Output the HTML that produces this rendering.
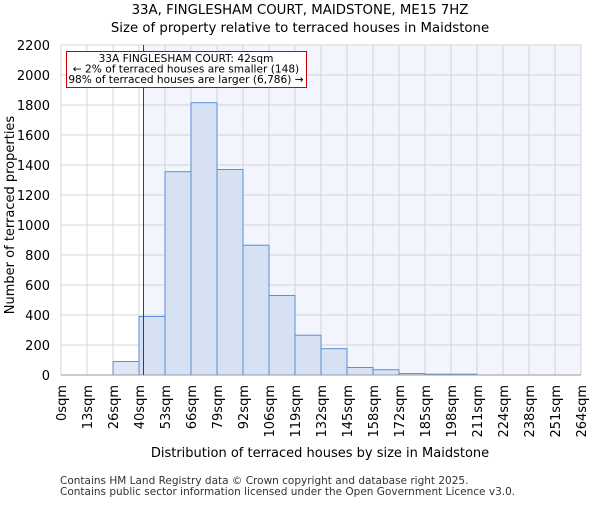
<!DOCTYPE html>
<html><head><style>body{margin:0;background:#fff}</style></head><body>
<svg width="600" height="500" xmlns="http://www.w3.org/2000/svg" font-family="DejaVu Sans, Liberation Sans, sans-serif">
<text x="300" y="14" text-anchor="middle" font-size="13.3">33A, FINGLESHAM COURT, MAIDSTONE, ME15 7HZ</text>
<text x="300" y="32" text-anchor="middle" font-size="13.3">Size of property relative to terraced houses in Maidstone</text>
<rect x="143.5" y="45" width="437.5" height="330" fill="#f2f5fd"/>
<g stroke="#d4d4d4" stroke-width="1">
<line x1="61" x2="581" y1="375" y2="375"/><line x1="61" x2="581" y1="345" y2="345"/><line x1="61" x2="581" y1="315" y2="315"/><line x1="61" x2="581" y1="285" y2="285"/><line x1="61" x2="581" y1="255" y2="255"/><line x1="61" x2="581" y1="225" y2="225"/><line x1="61" x2="581" y1="195" y2="195"/><line x1="61" x2="581" y1="165" y2="165"/><line x1="61" x2="581" y1="135" y2="135"/><line x1="61" x2="581" y1="105" y2="105"/><line x1="61" x2="581" y1="75" y2="75"/><line x1="61" x2="581" y1="45" y2="45"/>
<line x1="61" x2="61" y1="45" y2="375"/><line x1="87" x2="87" y1="45" y2="375"/><line x1="113" x2="113" y1="45" y2="375"/><line x1="139" x2="139" y1="45" y2="375"/><line x1="165" x2="165" y1="45" y2="375"/><line x1="191" x2="191" y1="45" y2="375"/><line x1="217" x2="217" y1="45" y2="375"/><line x1="243" x2="243" y1="45" y2="375"/><line x1="269" x2="269" y1="45" y2="375"/><line x1="295" x2="295" y1="45" y2="375"/><line x1="321" x2="321" y1="45" y2="375"/><line x1="347" x2="347" y1="45" y2="375"/><line x1="373" x2="373" y1="45" y2="375"/><line x1="399" x2="399" y1="45" y2="375"/><line x1="425" x2="425" y1="45" y2="375"/><line x1="451" x2="451" y1="45" y2="375"/><line x1="477" x2="477" y1="45" y2="375"/><line x1="503" x2="503" y1="45" y2="375"/><line x1="529" x2="529" y1="45" y2="375"/><line x1="555" x2="555" y1="45" y2="375"/><line x1="581" x2="581" y1="45" y2="375"/>
</g>
<g fill="#d6e1f3" stroke="#5b8fd6" stroke-width="1">
<rect x="113" y="361.5" width="26" height="13.5" fill="#dfe7f5"/>
<rect x="139" y="316.5" width="26" height="58.5"/>
<rect x="165" y="171.7" width="26" height="203.3"/>
<rect x="191" y="102.7" width="26" height="272.3"/>
<rect x="217" y="169.5" width="26" height="205.5"/>
<rect x="243" y="245.2" width="26" height="129.8"/>
<rect x="269" y="295.5" width="26" height="79.5"/>
<rect x="295" y="335.2" width="26" height="39.8"/>
<rect x="321" y="348.7" width="26" height="26.3"/>
<rect x="347" y="367.5" width="26" height="7.5"/>
<rect x="373" y="369.7" width="26" height="5.3"/>
<rect x="399" y="373.5" width="26" height="1.5"/>
<rect x="425" y="374.2" width="26" height="0.8"/>
<rect x="451" y="374.2" width="26" height="0.8"/>
</g>
<line x1="61" x2="581" y1="375" y2="375" stroke="#999"/>
<line x1="143.5" x2="143.5" y1="45" y2="375" stroke="#cc0000" stroke-width="1"/>
<rect x="66.5" y="51.5" width="240" height="36" fill="#fff" stroke="#cc0000"/>
<g font-size="10.6" text-anchor="middle"><text x="186" y="62">33A FINGLESHAM COURT: 42sqm</text><text x="186" y="72.5">← 2% of terraced houses are smaller (148)</text><text x="186" y="83">98% of terraced houses are larger (6,786) →</text></g>
<g font-size="13" text-anchor="end">
<text x="50" y="380">0</text><text x="50" y="350">200</text><text x="50" y="320">400</text><text x="50" y="290">600</text><text x="50" y="260">800</text><text x="50" y="230">1000</text><text x="50" y="200">1200</text><text x="50" y="170">1400</text><text x="50" y="140">1600</text><text x="50" y="110">1800</text><text x="50" y="80">2000</text><text x="50" y="50">2200</text>
</g>
<text transform="translate(14,215) rotate(-90)" text-anchor="middle" font-size="13">Number of terraced properties</text>
<g font-size="13" text-anchor="end">
<text transform="translate(66,385) rotate(-90)">0sqm</text><text transform="translate(92,385) rotate(-90)">13sqm</text><text transform="translate(118,385) rotate(-90)">26sqm</text><text transform="translate(144,385) rotate(-90)">40sqm</text><text transform="translate(170,385) rotate(-90)">53sqm</text><text transform="translate(196,385) rotate(-90)">66sqm</text><text transform="translate(222,385) rotate(-90)">79sqm</text><text transform="translate(248,385) rotate(-90)">92sqm</text><text transform="translate(274,385) rotate(-90)">106sqm</text><text transform="translate(300,385) rotate(-90)">119sqm</text><text transform="translate(326,385) rotate(-90)">132sqm</text><text transform="translate(352,385) rotate(-90)">145sqm</text><text transform="translate(378,385) rotate(-90)">158sqm</text><text transform="translate(404,385) rotate(-90)">172sqm</text><text transform="translate(430,385) rotate(-90)">185sqm</text><text transform="translate(456,385) rotate(-90)">198sqm</text><text transform="translate(482,385) rotate(-90)">211sqm</text><text transform="translate(508,385) rotate(-90)">224sqm</text><text transform="translate(534,385) rotate(-90)">238sqm</text><text transform="translate(560,385) rotate(-90)">251sqm</text><text transform="translate(586,385) rotate(-90)">264sqm</text>
</g>
<text x="320" y="457" text-anchor="middle" font-size="13">Distribution of terraced houses by size in Maidstone</text>
<text x="60" y="484" font-size="10.5" fill="#333">Contains HM Land Registry data © Crown copyright and database right 2025.</text>
<text x="60" y="495" font-size="10.5" fill="#333">Contains public sector information licensed under the Open Government Licence v3.0.</text>
</svg>
</body></html>
